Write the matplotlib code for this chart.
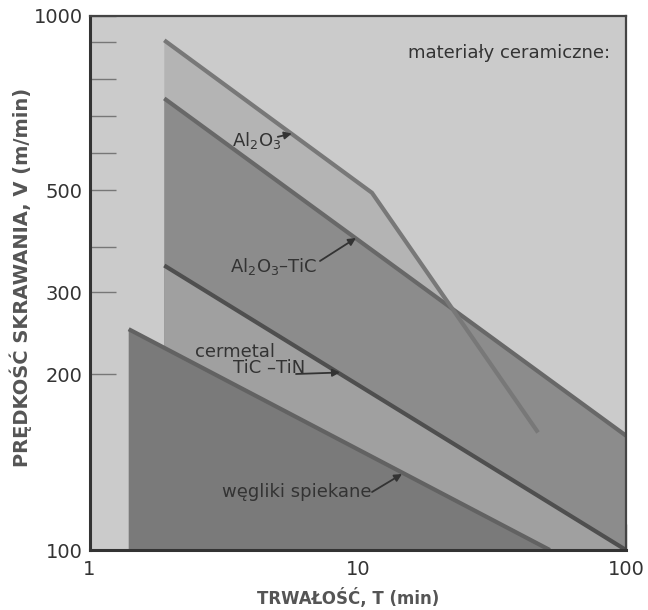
import numpy as np
import matplotlib
matplotlib.use("Agg")
import matplotlib.pyplot as plt
from matplotlib.ticker import FixedLocator, NullLocator, FixedFormatter, NullFormatter

# ---------------- data ----------------
# Tool life T [min] and cutting speed V [m/min]
al2o3_T = [1.9, 11.3, 47]
al2o3_V = [905, 495, 159]

al2o3tic_T = [1.9, 100]
al2o3tic_V = [745, 157]

cermet_T = [1.9, 100]
cermet_V = [355, 100]

carbide_T = [1.4, 52]
carbide_V = [250, 100]

x_ticks = [1, 10, 100]
x_ticklabels = ["1", "10", "100"]
y_major = [100, 200, 300, 500, 1000]
y_major_labels = ["100", "200", "300", "500", "1000"]
y_minor = [400, 600, 700, 800, 900]

# ---------------- non-uniform V axis of the original drawing ----------------
_scale_vals = np.array([10, 100, 200, 300, 400, 500, 600, 700, 800, 900, 1000, 10000], float)
_scale_pos = np.array([-1.0, 0.0, 0.3287, 0.4821, 0.5678, 0.6730, 0.7422, 0.8125,
                       0.8818, 0.9510, 1.0, 2.0])
_lv = np.log10(_scale_vals)


def _fwd(v):
    v = np.asarray(v, float)
    with np.errstate(divide="ignore", invalid="ignore"):
        lv = np.log10(np.clip(v, 1e-6, None))
    return np.interp(lv, _lv, _scale_pos)


def _inv(f):
    f = np.asarray(f, float)
    return 10 ** np.interp(f, _scale_pos, _lv)


# ---------------- figure ----------------
fig = plt.figure(figsize=(6.48, 6.10), dpi=100)
ax = fig.add_axes([89.5 / 648, 1 - 550 / 610, 536.5 / 648, 534.5 / 610])
ax.set_facecolor("#cbcbcb")
ax.set_xscale("log")
ax.set_yscale("function", functions=(_fwd, _inv))
ax.set_xlim(1, 100)
ax.set_ylim(100, 1000)

ymin = 100


def band(T, V, color, z):
    xs = [T[0]] + list(T) + [T[-1]]
    ys = [ymin] + list(V) + [ymin]
    ax.fill(xs, ys, color=color, lw=0, zorder=z)


band(al2o3_T, al2o3_V, "#b4b4b4", 1)
band(al2o3tic_T, al2o3tic_V, "#8c8c8c", 2)
band(cermet_T, cermet_V, "#a0a0a0", 3)
band(carbide_T, carbide_V, "#7a7a7a", 4)

lw = 3.0
ax.plot(carbide_T, carbide_V, color="#626262", lw=lw, zorder=6, solid_capstyle="butt")
ax.plot(cermet_T, cermet_V, color="#4f4f4f", lw=lw, zorder=6, solid_capstyle="butt")
ax.plot(al2o3tic_T, al2o3tic_V, color="#686868", lw=lw, zorder=6, solid_capstyle="butt")
ax.plot(al2o3_T, al2o3_V, color="#787878", lw=lw, zorder=7, solid_capstyle="butt")

# ticks
ax.xaxis.set_major_locator(FixedLocator(x_ticks))
ax.xaxis.set_major_formatter(FixedFormatter(x_ticklabels))
ax.xaxis.set_minor_locator(NullLocator())
ax.yaxis.set_major_locator(FixedLocator(y_major))
ax.yaxis.set_major_formatter(FixedFormatter(y_major_labels))
ax.yaxis.set_minor_locator(FixedLocator(y_minor))
ax.yaxis.set_minor_formatter(NullFormatter())
ax.tick_params(axis="both", which="both", direction="in", length=19, width=1.0,
               color="#777777", labelsize=14, labelcolor="#333333")
ax.tick_params(axis="y", which="both", pad=5)
ax.tick_params(axis="x", which="both", pad=7)
for t in ax.get_xticklines() + ax.get_yticklines() + ax.yaxis.get_minorticklines():
    t.set_zorder(8)

for s in ["left", "bottom"]:
    ax.spines[s].set_linewidth(2.2)
    ax.spines[s].set_color("#333333")
for s in ["top", "right"]:
    ax.spines[s].set_linewidth(1.6)
    ax.spines[s].set_color("#444444")
for s in ax.spines.values():
    s.set_zorder(10)

# axis titles
fig.text(348 / 648, 1 - 598 / 610, "TRWAŁOŚĆ, T (min)", ha="center", va="center",
         fontsize=12, fontweight="bold", color="#555555")
fig.text(21 / 648, 1 - 277 / 610, "PRĘDKOŚĆ SKRAWANIA, V (m/min)", ha="center",
         va="center", rotation=90, fontsize=14, fontweight="bold", color="#555555")

# annotations (axes fraction)
tc = "#333333"
fs = 13
ax.text(0.970, 0.930, "materiały ceramiczne:", transform=ax.transAxes, ha="right",
        va="center", fontsize=fs, color=tc, zorder=11)
ax.text(0.2656, 0.767, "Al$_2$O$_3$", transform=ax.transAxes, ha="left", va="center",
        fontsize=fs, color=tc, zorder=11)
ax.text(0.262, 0.5295, "Al$_2$O$_3$–TiC", transform=ax.transAxes, ha="left",
        va="center", fontsize=fs, color=tc, zorder=11)
ax.text(0.1966, 0.3704, "cermetal", transform=ax.transAxes, ha="left", va="center",
        fontsize=fs, color=tc, zorder=11)
ax.text(0.2675, 0.3405, "TiC –TiN", transform=ax.transAxes, ha="left", va="center",
        fontsize=fs, color=tc, zorder=11)
ax.text(0.247, 0.1085, "węgliki spiekane", transform=ax.transAxes, ha="left",
        va="center", fontsize=fs, color=tc, zorder=11)

arrows = [
    ((0.351, 0.773), (0.377, 0.779)),
    ((0.4296, 0.5407), (0.4967, 0.5837)),
    ((0.3849, 0.3293), (0.4669, 0.3321)),
    ((0.5266, 0.1085), (0.5825, 0.1422)),
]
for start, end in arrows:
    ax.annotate("", xy=end, xytext=start, xycoords="axes fraction",
                textcoords="axes fraction",
                arrowprops=dict(arrowstyle="-|>", color="#333333", lw=1.3,
                                mutation_scale=11, shrinkA=0, shrinkB=0),
                zorder=11)

fig.savefig("out.png", dpi=100)
